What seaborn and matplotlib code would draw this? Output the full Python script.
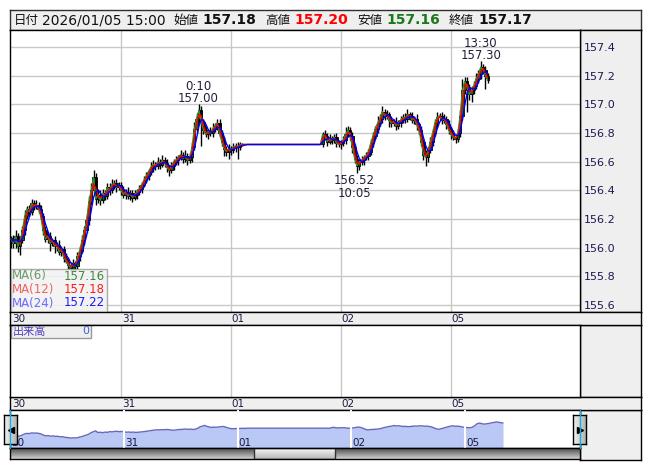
import numpy as np
import pandas as pd
import matplotlib
matplotlib.use('Agg')
import matplotlib.pyplot as plt
from matplotlib.patches import Rectangle
import seaborn as sns

# USD/JPY 30-minute closes, each day starts 07:00 (Dec 30 -> Jan 5 15:00)
dec30 = [156.06, 156.03, 156.08, 156.01, 156.05, 156.12, 156.22, 156.27, 156.25, 156.31,
         156.29, 156.30, 156.27, 156.22, 156.12, 156.06, 156.08, 156.03, 156.05, 156.01,
         156.02, 155.97, 155.99, 155.93, 155.91, 155.88, 155.86, 155.89, 155.87, 155.94,
         155.98, 156.05, 156.12, 156.19, 156.32, 156.40, 156.49, 156.34, 156.37, 156.33,
         156.38, 156.36, 156.42, 156.40, 156.44, 156.45, 156.42, 156.44]
dec31 = [156.40, 156.37, 156.39, 156.36, 156.38, 156.35, 156.37, 156.39, 156.41, 156.44,
         156.47, 156.50, 156.53, 156.56, 156.58, 156.57, 156.60, 156.58, 156.61, 156.59,
         156.56, 156.54, 156.57, 156.60, 156.61, 156.63, 156.65, 156.62, 156.64, 156.61,
         156.63, 156.70, 156.83, 156.90, 156.96, 156.88, 156.82, 156.79, 156.81, 156.80,
         156.83, 156.85, 156.87, 156.80, 156.74, 156.69, 156.67, 156.69]
jan01 = [156.68, 156.70, 156.71, 156.70, 156.72, 156.72,
         156.72, 156.72, 156.72, 156.72, 156.72, 156.72, 156.72, 156.72, 156.72, 156.72,
         156.72, 156.72, 156.72, 156.72, 156.72, 156.72, 156.72, 156.72, 156.72, 156.72,
         156.72, 156.72, 156.72, 156.72, 156.72, 156.72, 156.72, 156.72, 156.72, 156.72,
         156.72, 156.72, 156.72, 156.72,
         156.79, 156.78, 156.74, 156.76, 156.75, 156.77, 156.73, 156.72]
jan02 = [156.73, 156.75, 156.79, 156.82, 156.78, 156.70, 156.62, 156.57, 156.60, 156.61,
         156.63, 156.64, 156.67, 156.73, 156.78, 156.83, 156.87, 156.90, 156.95, 156.92,
         156.93, 156.89, 156.87, 156.88, 156.85, 156.87, 156.89, 156.91, 156.90, 156.93,
         156.92, 156.89, 156.90, 156.86, 156.82, 156.74, 156.65, 156.63, 156.68, 156.74,
         156.80, 156.87, 156.91, 156.92, 156.89, 156.90, 156.86, 156.82]
jan05 = [156.79, 156.77, 156.76, 156.80, 156.92, 157.10, 157.16, 157.12, 157.07, 157.10,
         157.13, 157.18, 157.21, 157.26, 157.24, 157.20, 157.17]

# upper / lower shadow length of each bar in pips (0.01 yen)
wick_up = [2, 3, 4, 2, 3, 3, 4, 2, 3, 3, 2, 3, 2, 3, 2, 3, 2, 3, 2, 3, 2, 3, 2, 2,
           3, 2, 2, 3, 2, 3, 3, 4, 3, 4, 4, 5, 5, 3, 4, 3, 3, 2, 3, 3, 4, 2, 3, 2,
           2, 3, 2, 3, 2, 2, 3, 2, 3, 2, 3, 3, 2, 4, 3, 2, 3, 2, 4, 2, 3, 2, 3, 2,
           3, 2, 3, 2, 4, 2, 3, 4, 5, 4, 4, 3, 2, 3, 2, 3, 4, 2, 3, 3, 2, 3, 2, 3,
           2, 3, 2, 3, 2, 1, 0, 0, 0, 0, 0, 0, 0, 0, 0, 0, 0, 0, 0, 0, 0, 0, 0, 0,
           0, 0, 0, 0, 0, 0, 0, 0, 0, 0, 0, 0, 0, 0, 0, 0, 2, 3, 2, 3, 2, 2, 3, 2,
           2, 3, 5, 3, 2, 3, 2, 3, 2, 3, 2, 3, 2, 3, 3, 2, 5, 3, 4, 2, 3, 2, 3, 2,
           3, 2, 3, 2, 3, 4, 2, 3, 2, 3, 2, 3, 2, 3, 2, 3, 3, 3, 4, 2, 3, 3, 2, 3,
           2, 3, 2, 3, 4, 8, 3, 3, 2, 3, 3, 4, 3, 4, 2, 3, 2]
wick_dn = [6, 3, 3, 4, 6, 2, 3, 2, 3, 2, 3, 2, 3, 2, 3, 2, 3, 5, 2, 5, 3, 2, 3, 3,
           2, 3, 2, 3, 4, 2, 3, 2, 3, 2, 3, 2, 3, 4, 3, 3, 2, 3, 2, 3, 2, 3, 3, 2,
           3, 2, 3, 2, 3, 3, 2, 3, 2, 3, 2, 2, 3, 2, 3, 3, 2, 3, 2, 3, 3, 4, 2, 3,
           2, 3, 2, 3, 2, 3, 2, 3, 2, 3, 3, 17, 3, 2, 3, 2, 3, 2, 3, 3, 3, 5, 3, 5,
           3, 2, 3, 8, 2, 1, 0, 0, 0, 0, 0, 0, 0, 0, 0, 0, 0, 0, 0, 0, 0, 0, 0, 0,
           0, 0, 0, 0, 0, 0, 0, 0, 0, 0, 0, 0, 0, 0, 0, 0, 2, 3, 3, 2, 3, 2, 3, 2,
           3, 2, 3, 2, 3, 4, 3, 5, 3, 2, 3, 2, 3, 2, 3, 2, 3, 2, 3, 3, 2, 5, 3, 2,
           3, 2, 3, 2, 3, 2, 3, 2, 3, 4, 3, 3, 4, 6, 3, 2, 3, 2, 3, 2, 3, 2, 3, 3,
           3, 2, 3, 2, 3, 3, 3, 17, 4, 5, 3, 2, 3, 3, 3, 9, 2]

day_labels = ['30', '31', '01', '02', '05']
day_starts = [0, 48, 96, 144, 192]
price_ticks = [155.6, 155.8, 156.0, 156.2, 156.4, 156.6, 156.8, 157.0, 157.2, 157.4]

ma_names = ['MA(6)', 'MA(12)', 'MA(24)']
ma_last = ['157.16', '157.18', '157.22']
ma_windows = [1, 2, 4]  # 6/12/24 five-minute bars expressed in 30-minute bars
ma_colors = ['#2f8f2f', '#ff0000', '#0000ff']
ma_text_colors = [('#6a9a6a', '#3d8a3d'), ('#f06060', '#ff1a1a'), ('#6a6aff', '#1a1aff')]

header_date = '2026/01/05 15:00'
header_fields = [('始値', '157.18', '#111111'), ('高値', '157.20', '#ff0000'),
                 ('安値', '157.16', '#1a7a1a'), ('終値', '157.17', '#111111')]

closes = dec30 + dec31 + jan01 + jan02 + jan05
df = pd.DataFrame({'idx': np.arange(len(closes)), 'close': closes})
df['open'] = df['close'].shift(1).fillna(df['close'])
df['top'] = df[['open', 'close']].max(axis=1)
df['bot'] = df[['open', 'close']].min(axis=1)
df['high'] = df['top'] + np.array(wick_up) / 100
df['low'] = df['bot'] - np.array(wick_dn) / 100
for name, w in zip(ma_names, ma_windows):
    df[name] = df['close'].rolling(w, min_periods=1).mean()

sns.set_theme(style='white')
plt.rcParams['font.family'] = ['DejaVu Sans', 'Noto Sans CJK JP']

W, H = 653, 470
fig = plt.figure(figsize=(W / 100, H / 100), dpi=100)
fig.patch.set_facecolor('white')
PANEL = '#efefef'
GRID = '#c8c8c8'


def px_axes(x0, y0, x1, y1, face='white', edge='black', lw=1.0):
    a = fig.add_axes([x0 / W, 1 - y1 / H, (x1 - x0) / W, (y1 - y0) / H])
    a.set_facecolor(face)
    a.set_xticks([])
    a.set_yticks([])
    for s in a.spines.values():
        s.set_color(edge)
        s.set_linewidth(lw)
        s.set_visible(True)
    return a


# header
hd = px_axes(10, 10, 641, 30, face=PANEL, edge='#303030')
ty = 1 - 20.5 / H
fig.text(14 / W, ty, '日付', fontsize=9, va='center', color='#111111')
fig.text(42 / W, ty, header_date, fontsize=10, va='center', color='#111111')
label_x = [173, 265, 357, 449]
for (lab, val, col), lx in zip(header_fields, label_x):
    fig.text(lx / W, ty, lab, fontsize=9, va='center', color='#111111')
    fig.text((lx + 29) / W, ty, val, fontsize=10, fontweight='bold', va='center', color=col)

# right-hand panels
px_axes(580, 30, 641, 312, face=PANEL)
px_axes(580, 325, 641, 397, face=PANEL)
px_axes(580, 410, 641, 460, face=PANEL)

xl_main = (-0.44, 248.3)

# main price chart
ax = px_axes(10, 30, 580, 312)
ax.set_xlim(*xl_main)
ax.set_ylim(155.551, 157.519)
for t in price_ticks:
    ax.axhline(t, color=GRID, lw=1, zorder=0)
for d in day_starts[1:]:
    ax.axvline(d, color=GRID, lw=1, zorder=0)

up = df['close'] > df['open']
ax.vlines(df['idx'], df['low'], df['high'], color='black', lw=1, zorder=2)
body = np.maximum(df['top'] - df['bot'], 0.004)
ax.bar(df['idx'], body, bottom=df['bot'], width=1.0,
       color=np.where(up, '#0b6b0b', '#000000'), edgecolor='black', linewidth=0.6, zorder=2)

for name, col in zip(ma_names, ma_colors):
    sns.lineplot(data=df, x='idx', y=name, color=col, lw=1.0, ax=ax, zorder=3)
ax.set_xlabel('')
ax.set_ylabel('')

ax.yaxis.tick_right()
ax.set_yticks(price_ticks)
ax.set_yticklabels([f'{t:.1f}' for t in price_ticks])
ax.tick_params(axis='y', length=0, pad=3, labelsize=8, labelcolor='#1a1a50')
ax.set_xticks([])

ann_kw = dict(textcoords='offset pixels', ha='center', va='center', fontsize=8.5,
              color='#20203a', zorder=5)
ax.annotate('157.00', xy=(82, 157.00), xytext=(-1, 6), **ann_kw)
ax.annotate('0:10', xy=(82, 157.00), xytext=(-1, 18), **ann_kw)
ax.annotate('157.30', xy=(205, 157.30), xytext=(0, 6), **ann_kw)
ax.annotate('13:30', xy=(205, 157.30), xytext=(0, 18), **ann_kw)
ax.annotate('156.52', xy=(151, 156.52), xytext=(-3, -7), **ann_kw)
ax.annotate('10:05', xy=(151, 156.52), xytext=(-3, -20), **ann_kw)


def ax_px(px, py):
    return ((px - 10) / 570, 1 - (py - 30) / 282)


ax.add_patch(Rectangle(ax_px(11, 312), 96 / 570, 43 / 282, transform=ax.transAxes,
                       facecolor='#f2f2f2', alpha=0.88, edgecolor='#a0a0a0', lw=1, zorder=6))
for k, (name, val) in enumerate(zip(ma_names, ma_last)):
    yy = 276 + k * 13.5
    ax.text(*ax_px(12, yy), name, transform=ax.transAxes, fontsize=8.5, va='center',
            color=ma_text_colors[k][0], zorder=7)
    ax.text(*ax_px(105, yy), val, transform=ax.transAxes, fontsize=8.5, va='center',
            ha='right', color=ma_text_colors[k][1], zorder=7)

# date strips
for y0, y1 in [(312, 325), (397, 410)]:
    st = px_axes(10, y0, 641, y1, face=PANEL)
    st.set_xlim(xl_main[0], xl_main[0] + (xl_main[1] - xl_main[0]) * 631 / 570)
    st.set_ylim(0, 1)
    for d, lab in zip(day_starts, day_labels):
        st.text(d + 0.3, 0.45, lab, fontsize=7.5, va='center', ha='left', color='#1a1a40')

# volume panel
vol = px_axes(10, 325, 580, 397)
vol.set_xlim(*xl_main)
for d in day_starts[1:]:
    vol.axvline(d, color=GRID, lw=1, zorder=0)
vol.add_patch(Rectangle((1 / 570, 1 - 13 / 72), 80 / 570, 13 / 72, transform=vol.transAxes,
                        facecolor=PANEL, edgecolor='#999999', lw=1))
vol.text(3 / 570, 1 - 6.5 / 72, '出来高', transform=vol.transAxes, fontsize=8,
         va='center', color='#5040c0', family=['Noto Sans CJK JP', 'DejaVu Sans'])
vol.text(79 / 570, 1 - 6.5 / 72, '0', transform=vol.transAxes, fontsize=8,
         va='center', ha='right', color='#4060e0')

# navigator
nav = px_axes(10, 410, 580, 448)
nav.set_xlim(-0.13, 240.5)
nav.set_ylim(155.0, 158.3)
nav.fill_between(df['idx'], 155.0, df['close'], color='#b9c8f5', lw=0, zorder=1)
sns.lineplot(data=df, x='idx', y='close', color='#6868b8', lw=1, ax=nav, zorder=2)
nav.set_xlabel('')
nav.set_ylabel('')
for d in day_starts[1:]:
    nav.axvline(d, color='white', lw=1.5, zorder=3)
for d, lab in zip(day_starts, day_labels):
    nav.text(d + 0.4, 155.45, lab, fontsize=7.5, va='center', ha='left', color='#1a1a40', zorder=4)
nav.set_xticks([])
nav.set_yticks([])
for xx in (10, 580):
    fig.add_artist(plt.Line2D([xx / W, xx / W], [1 - 448 / H, 1 - 410 / H],
                              color='#10b0e0', lw=1))

# scrollbar
sb = px_axes(10, 448, 580, 459, edge='black')
grad = np.linspace(0.3, 0.82, 20).reshape(-1, 1)
sb.imshow(grad, aspect='auto', cmap='gray', vmin=0, vmax=1, extent=(0, 570, 11, 0))
thumb = np.linspace(0.97, 0.72, 20).reshape(-1, 1)
sb.imshow(thumb, aspect='auto', cmap='gray', vmin=0, vmax=1, extent=(244, 325, 11, 0))
sb.add_patch(Rectangle((244, 0), 81, 11, facecolor='none', edgecolor='#333333', lw=1))
sb.set_xlim(0, 570)
sb.set_ylim(11, 0)

# arrow buttons
for x0, mk in [(4, '<'), (573, '>')]:
    b = px_axes(x0, 415, x0 + 13, 444, edge='black')
    b.imshow(np.linspace(0.95, 0.7, 20).reshape(1, -1), aspect='auto', cmap='gray',
             vmin=0, vmax=1, extent=(0, 1, 0, 1))
    b.plot([0.5], [0.5], marker=mk, color='black', markersize=4)
    b.set_xlim(0, 1)
    b.set_ylim(0, 1)

fig.savefig('out.png', dpi=100)
